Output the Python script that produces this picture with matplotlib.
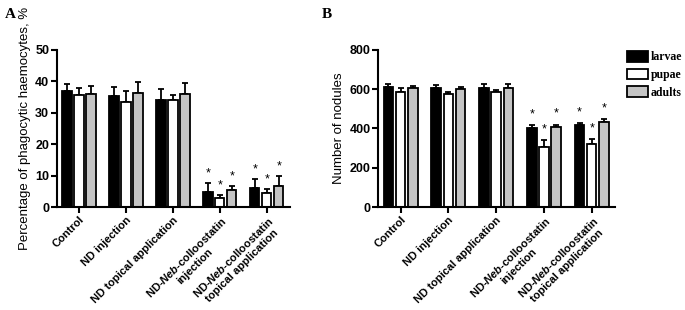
import matplotlib
matplotlib.use("Agg")
import matplotlib.pyplot as plt
import numpy as np
from matplotlib.patches import Patch

# ── Data ──────────────────────────────────────────────────────────────────────
groups = ["Control", "ND injection", "ND topical application",
          "ND-$\\it{Neb}$-colloostatin\ninjection",
          "ND-$\\it{Neb}$-colloostatin\ntopical application"]
stages = ["larvae", "pupae", "adults"]

phago_mean = {
    "larvae": [37.0, 35.2, 34.2, 4.8, 6.2],
    "pupae":  [35.6, 33.5, 34.2, 3.0, 4.4],
    "adults": [36.0, 36.3, 36.0, 5.5, 6.8],
}
phago_err = {
    "larvae": [2.0, 3.1, 3.3, 3.0, 2.8],
    "pupae":  [2.4, 3.3, 1.6, 1.0, 1.4],
    "adults": [2.5, 3.5, 3.5, 1.3, 3.0],
}
nod_mean = {
    "larvae": [609, 608, 604, 402, 417],
    "pupae":  [587, 575, 584, 306, 323],
    "adults": [604, 599, 604, 407, 434],
}
nod_err = {
    "larvae": [16, 12, 21, 17, 10],
    "pupae":  [21, 12, 10, 33, 24],
    "adults": [12, 12, 24, 13, 12],
}
signif_groups = [3, 4]  # groups marked with *

colors = {"larvae": "black", "pupae": "white", "adults": "#c4c4c4"}

plt.rcParams["font.family"] = ["Liberation Sans", "DejaVu Sans"]
plt.rcParams["mathtext.fontset"] = "custom"
plt.rcParams["mathtext.it"] = "Liberation Sans:italic:bold"
plt.rcParams["mathtext.rm"] = "Liberation Sans:bold"


def draw_panel(ax, means, errs, ymax, step, ylabel, star_off):
    x = np.arange(len(groups))
    width = 0.2
    offsets = [-0.255, 0.0, 0.255]
    for off, st in zip(offsets, stages):
        m = np.array(means[st])
        e = np.array(errs[st])
        ax.bar(x + off, m, width, color=colors[st], edgecolor="black",
               linewidth=1.3, zorder=2)
        ax.errorbar(x + off, m, yerr=[np.zeros_like(e), e], fmt="none",
                    ecolor="black", elinewidth=1.3, capsize=2.2,
                    capthick=1.3, zorder=1)
        for g in signif_groups:
            ax.text(x[g] + off, m[g] + e[g] + star_off, "*", ha="center",
                    va="center", fontsize=9)
    ax.set_xlim(-0.47, 4.49)
    ax.set_ylim(0, ymax)
    ax.set_yticks(np.arange(0, ymax + 1, step))
    ax.set_xticks(x)
    ax.set_xticklabels(groups, rotation=45, ha="right",
                       rotation_mode="anchor", fontsize=8,
                       fontweight="bold", multialignment="center")
    for lbl in ax.get_yticklabels():
        lbl.set_fontweight("bold")
        lbl.set_fontsize(9)
    ax.set_ylabel(ylabel, fontsize=9.5, labelpad=3)
    for sp in ["top", "right"]:
        ax.spines[sp].set_visible(False)
    for sp in ["left", "bottom"]:
        ax.spines[sp].set_linewidth(1.5)
    ax.tick_params(axis="both", width=1.5, length=4, pad=1.5)


fig = plt.figure(figsize=(6.85, 3.10), dpi=100)
axA = fig.add_axes([0.083, 0.332, 0.340, 0.507])
axB = fig.add_axes([0.552, 0.332, 0.346, 0.507])

draw_panel(axA, phago_mean, phago_err, 50, 10,
           "Percentage of phagocytic haemocytes, %", 3.0)
draw_panel(axB, nod_mean, nod_err, 800, 200, "Number of nodules", 55)

fig.text(0.007, 0.975, "A", fontsize=11, fontweight="bold",
         family=["Liberation Serif"], va="top")
fig.text(0.470, 0.975, "B", fontsize=11, fontweight="bold",
         family=["Liberation Serif"], va="top")

handles = [Patch(facecolor=colors[s], edgecolor="black", linewidth=1.3)
           for s in stages]
fig.legend(handles, stages, loc="upper left", bbox_to_anchor=(0.916, 0.835),
           frameon=False, prop={"family": "Liberation Serif",
                                "weight": "bold", "size": 8.5},
           handlelength=1.7, handleheight=1.0, handletextpad=0.3,
           labelspacing=0.45, borderaxespad=0, borderpad=0)

fig.savefig("out.png", dpi=100)
